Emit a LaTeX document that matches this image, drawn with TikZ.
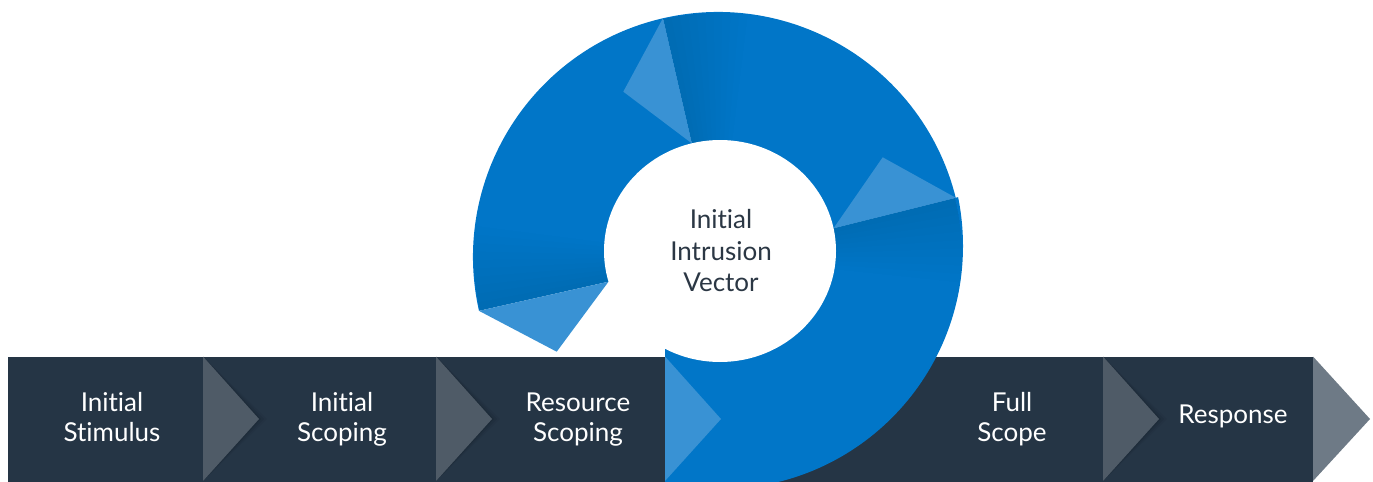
\documentclass[tikz,border=0pt]{standalone}
\usepackage{fontspec}
\setmainfont{Lato}[Ligatures=NoCommon]
\usetikzlibrary{calc}
\definecolor{bardark}{HTML}{253545}
\definecolor{chevgray}{HTML}{4F5B67}
\definecolor{tipgray}{HTML}{6E7A86}
\definecolor{ringblue}{HTML}{0176C8}
\definecolor{lightblue}{HTML}{3992D4}
\definecolor{coretext}{HTML}{2B3744}
\begin{document}
\begin{tikzpicture}[x=0.02cm,y=0.02cm,
  stagetext/.style={text=white, font=\fontsize{14.8}{17}\selectfont, align=center, inner sep=0pt, anchor=base},
  coretextstyle/.style={text=coretext, font=\fontsize{14.8}{18}\selectfont, align=center, inner sep=0pt, anchor=base},
  chevron/.style={fill=chevgray},
  ringpart/.style={fill=ringblue},
  highlight/.style={fill=lightblue}]
\useasboundingbox (0,0) rectangle (1373,481);
\clip (0,0) rectangle (1373,481);

% process bar
\fill[bardark] (7.5,-5) rectangle (1313,124.5);

% grey chevrons between stages, each with a soft shadow on its right
\foreach \bx in {203,436,1103} {
  \foreach \s/\o in {8/0.04,5/0.06,2/0.08}
    \fill[black,opacity=\o] (\bx,124.5) -- (\bx+56+\s,62) -- (\bx,0) -- cycle;
  \fill[chevron] (\bx,124.5) -- (\bx+56,62) -- (\bx,0) -- cycle;
}
% end arrow of the bar
\fill[fill=tipgray] (1313,124.5) -- (1370,62) -- (1313,0) -- cycle;

% spiral ring
\coordinate (c1) at (718,224);
\fill[ringpart] (c1) -- ++(14:245) arc[start angle=14, end angle=103, radius=245] -- cycle;
\fill[ringpart] (c1) -- ++(103:245) arc[start angle=103, end angle=192.7, radius=245] -- cycle;
\begin{scope}
  \clip (665,-10) -- (665,224) -- (c1) -- ++(14:400) |- (665,-10) -- cycle;
  \fill[ringpart] (720,235) circle[radius=243];
\end{scope}

% soft shading behind each segment joint
\foreach \a in {14,103,192.7} {
  \foreach \i [evaluate=\i as \b using \a-2*\i] in {1,...,10}
    \fill[black,opacity=0.007] (c1) -- ++(\b:244) arc[start angle=\b, end angle=\a, radius=244] -- cycle;
}

% arrow tips of the ring segments
\fill[highlight] ($(c1)+(103:245)$) -- (691.75,337.7) -- (623.3,389.3) -- cycle;
\fill[highlight] ($(c1)+(14:245)$) -- (833.6,252.8) -- (882.7,323.7) -- cycle;
\fill[highlight] ($(c1)+(192.7:245)$) -- (608.5,199.3) -- (556.7,129.3) -- cycle;
\fill[highlight] (665,124.5) -- (721,62) -- (665,0) -- cycle;

% centre of the ring
\fill[white] (720,230) ellipse[x radius=116, y radius=111];

% labels (base = baseline of the last line)
\node[coretextstyle] (core) at (721,189.3) {Initial\\Intrusion\\Vector};
\node[stagetext] (stimulus) at (112,39.3) {Initial\\Stimulus};
\node[stagetext] (scoping) at (342,39.3) {Initial\\Scoping};
\node[stagetext] (resource) at (578,39.3) {Resource\\Scoping};
\node[stagetext] (full) at (1012,39.3) {Full\\Scope};
\node[stagetext] (response) at (1233,57.7) {Response};
\end{tikzpicture}
\end{document}
